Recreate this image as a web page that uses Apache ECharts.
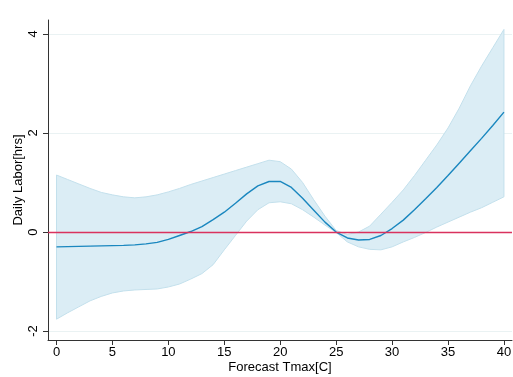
<!DOCTYPE html>
<html>
<head>
<meta charset="utf-8">
<script src="https://cdn.jsdelivr.net/npm/echarts@6/dist/echarts.min.js"></script>
<style>html,body{margin:0;padding:0;background:#fff}#c{width:513px;height:377px}</style>
</head>
<body>
<div id="c"></div>
<script>
var xs = [0,1,2,3,4,5,6,7,8,9,10,11,12,13,14,15,16,17,18,19,20,21,22,23,24,25,26,27,28,29,30,31,32,33,34,35,36,37,38,39,40];
var fitValues = [-0.30,-0.295,-0.29,-0.285,-0.28,-0.275,-0.27,-0.26,-0.24,-0.21,-0.15,-0.07,0.01,0.11,0.25,0.40,0.58,0.77,0.93,1.02,1.02,0.90,0.68,0.44,0.20,0.00,-0.12,-0.16,-0.15,-0.07,0.07,0.24,0.45,0.67,0.90,1.14,1.39,1.64,1.89,2.15,2.42];
var upperValues = [1.15,1.06,0.97,0.88,0.80,0.75,0.71,0.69,0.71,0.75,0.81,0.88,0.96,1.03,1.10,1.17,1.24,1.31,1.38,1.45,1.42,1.27,1.00,0.65,0.32,0.03,-0.05,0.00,0.12,0.36,0.60,0.85,1.14,1.45,1.76,2.10,2.50,2.95,3.35,3.72,4.09];
var lowerValues = [-1.76,-1.63,-1.51,-1.39,-1.30,-1.23,-1.19,-1.17,-1.16,-1.15,-1.11,-1.05,-0.95,-0.84,-0.66,-0.36,-0.07,0.22,0.45,0.59,0.61,0.57,0.45,0.30,0.14,-0.01,-0.20,-0.30,-0.35,-0.36,-0.30,-0.20,-0.11,-0.01,0.10,0.20,0.30,0.40,0.49,0.60,0.71];
var xTicks = [0,5,10,15,20,25,30,35,40];
var yTicks = [-2,0,2,4];
var refLine = 0;

function pairs(a){ return xs.map(function(x,i){ return [x, a[i]]; }); }
var bandData = xs.map(function(x,i){ return [x, lowerValues[i], upperValues[i]]; });

var font = 'Liberation Sans, Arial, Helvetica, sans-serif';
var chart = echarts.init(document.getElementById('c'), null, {renderer:'canvas'});
chart.setOption({
  animation:false,
  grid:{left:48, right:1, top:20, bottom:37, outerBoundsMode:'none', containLabel:false},
  xAxis:{
    type:'value', min:-0.76, max:40.72,
    name:'Forecast Tmax[C]', nameLocation:'middle', nameGap:21, nameMoveOverlap:false,
    nameTextStyle:{fontFamily:font, fontSize:13, color:'#000'},
    axisLine:{show:true, onZero:false, lineStyle:{color:'#333', width:1}},
    axisTick:{show:true, length:5, lineStyle:{color:'#333'}, customValues:xTicks},
    axisLabel:{fontFamily:font, fontSize:13, color:'#000', margin:6, customValues:xTicks},
    splitLine:{show:false}
  },
  yAxis:{
    type:'value', min:-2.18, max:4.28,
    name:'Daily Labor[hrs]', nameLocation:'middle', nameGap:23, nameRotate:90, nameMoveOverlap:false,
    nameTextStyle:{fontFamily:font, fontSize:13, color:'#000'},
    axisLine:{show:true, onZero:false, lineStyle:{color:'#333', width:1}},
    axisTick:{show:true, length:5, lineStyle:{color:'#333'}, customValues:yTicks},
    axisLabel:{fontFamily:font, fontSize:13, color:'#000', margin:8, rotate:90, customValues:yTicks},
    splitLine:{show:true, lineStyle:{color:'#eaf2f3', width:1}}
  },
  series:[
    {type:'custom', data:bandData, silent:true, z:1, encode:{x:0, y:[1,2]},
     renderItem:function(params, api){
       if (params.dataIndex !== 0) return null;
       var pts = [];
       for (var i=0;i<xs.length;i++) pts.push(api.coord([xs[i], upperValues[i]]));
       for (var j=xs.length-1;j>=0;j--) pts.push(api.coord([xs[j], lowerValues[j]]));
       return {type:'polygon', shape:{points:pts}, style:{fill:'#dbedf5', stroke:'#c3e0ec', lineWidth:1}};
     }},
    {type:'line', data:pairs(fitValues), symbol:'none', lineStyle:{color:'#1a87bf', width:1.4}, z:4,
     markLine:{silent:true, symbol:'none', label:{show:false}, lineStyle:{color:'#d9325e', width:1.4, type:'solid'}, data:[{yAxis:refLine}]}}
  ]
});
</script>
</body>
</html>
